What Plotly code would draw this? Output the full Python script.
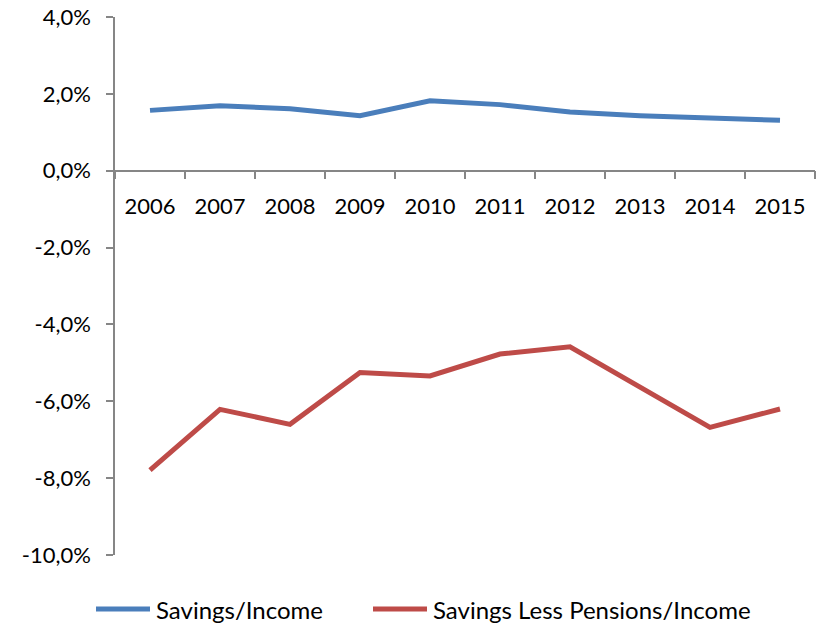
import plotly.graph_objects as go

# Household ratios, in percent of income
years = ["2006", "2007", "2008", "2009", "2010", "2011", "2012", "2013", "2014", "2015"]
savings_income = [1.57, 1.69, 1.61, 1.43, 1.82, 1.72, 1.53, 1.43, 1.37, 1.31]
savings_less_pensions = [-7.79, -6.21, -6.60, -5.25, -5.34, -4.77, -4.58, -5.62, -6.68, -6.20]

series_names = ["Savings/Income", "Savings Less Pensions/Income"]
series_colors = ["#4A7EBB", "#BE4B48"]
y_ticks = [-10, -8, -6, -4, -2, 0, 2, 4]
y_min, y_max = -10, 4

FONT = "Lato"
AXIS_GRAY = "#868686"


def pct_label(v):
    # decimal comma and an ASCII hyphen for negatives
    return f"{v:.1f}".replace(".", ",") + "%"


fig = go.Figure()
for name, vals, col in zip(series_names, [savings_income, savings_less_pensions], series_colors):
    fig.add_trace(go.Scatter(
        x=years, y=vals, name=name, mode="lines",
        line=dict(color=col, width=5),
        showlegend=False,
    ))

W, H = 828, 626
ml, mr, mt, mb = 115, 13, 17, 71

fig.update_layout(
    width=W, height=H,
    margin=dict(l=ml, r=mr, t=mt, b=mb, autoexpand=False),
    paper_bgcolor="white", plot_bgcolor="white",
    font=dict(family=FONT, size=22, color="#000000"),
)

fig.update_yaxes(
    range=[y_min, y_max], automargin=False,
    tickmode="array", tickvals=y_ticks, ticktext=[pct_label(v) for v in y_ticks],
    showgrid=False, zeroline=False,
    showline=True, linecolor=AXIS_GRAY, linewidth=1.5,
    ticks="outside", ticklen=7, tickcolor=AXIS_GRAY, tickwidth=1.5,
    ticklabelstandoff=11,
)

fig.update_xaxes(
    type="category", range=[-0.5, len(years) - 0.5], automargin=False,
    anchor="free", position=(0 - y_min) / (y_max - y_min),
    showgrid=False, zeroline=False,
    showline=True, linecolor=AXIS_GRAY, linewidth=1.5,
    ticks="outside", tickson="boundaries", ticklen=8,
    tickcolor=AXIS_GRAY, tickwidth=1.5,
    ticklabelstandoff=16,
)

# Legend row below the plot
plot_w = W - ml - mr
plot_h = H - mt - mb


def px_to_paper_x(px):
    return (px - ml) / plot_w


def py_to_paper_y(py):
    return (H - mb - py) / plot_h


legend_y = py_to_paper_y(609)
legend_starts = [96, 373]
for name, col, x0 in zip(series_names, series_colors, legend_starts):
    fig.add_shape(type="line", xref="paper", yref="paper",
                  x0=px_to_paper_x(x0), x1=px_to_paper_x(x0 + 54),
                  y0=legend_y, y1=legend_y,
                  line=dict(color=col, width=5))
    fig.add_annotation(xref="paper", yref="paper",
                       x=px_to_paper_x(x0 + 58), y=legend_y,
                       text=name, showarrow=False,
                       xanchor="left", yanchor="middle",
                       font=dict(family=FONT, size=24, color="#000000"))

fig.write_html("out.html")
